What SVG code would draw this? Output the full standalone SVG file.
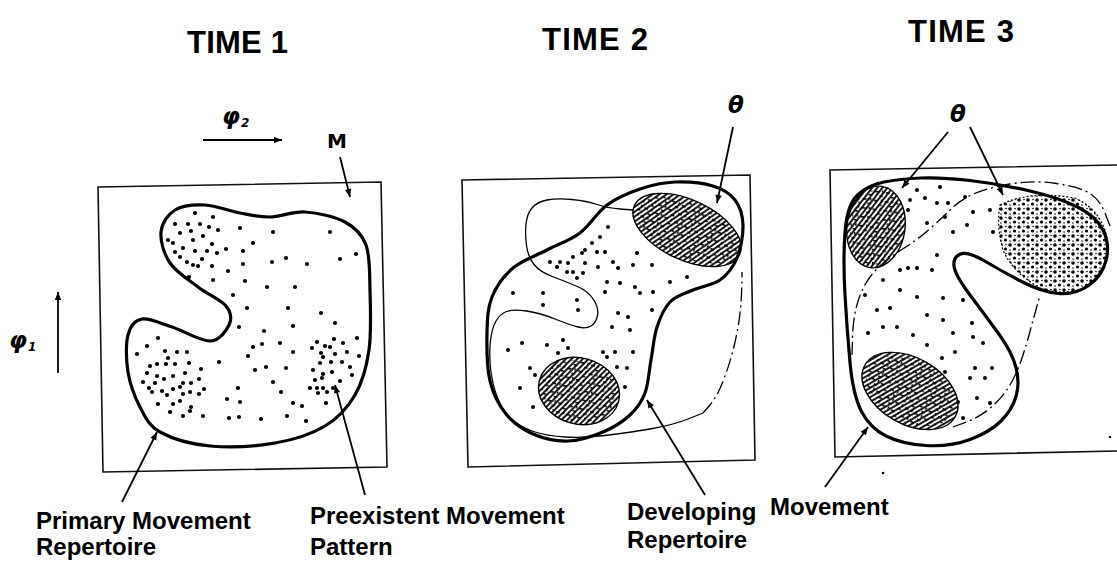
<svg xmlns="http://www.w3.org/2000/svg" width="1117" height="564" viewBox="0 0 1117 564">
<style>
.box{fill:none;stroke:#111;stroke-width:1.6}
.thick{fill:none;stroke:#000;stroke-width:3.2;stroke-linejoin:round}
.thin{fill:none;stroke:#000;stroke-width:1.3}
.dd{fill:none;stroke:#000;stroke-width:1.3;stroke-dasharray:14 4 2 4}
.dots circle{fill:#000}
.hat{fill:url(#hatch);stroke:#000;stroke-width:1.4}
.spk{fill:url(#speck);stroke:none}
.arr{fill:none;stroke:#000;stroke-width:1.8;marker-end:url(#ah)}
.title{font-family:"Liberation Sans",Arial,sans-serif;font-weight:bold;font-size:31px;fill:#000}
.lbl{font-family:"Liberation Sans",Arial,sans-serif;font-weight:bold;font-size:24px;fill:#000}
.greek{font-family:"DejaVu Sans",sans-serif;font-weight:bold;font-style:italic;font-size:23px;fill:#000}
.sub{font-family:"DejaVu Sans",sans-serif;font-weight:bold;font-size:12px;fill:#000}
.m{font-family:"DejaVu Sans",sans-serif;font-weight:bold;font-size:20px;fill:#000}
</style>
<defs>
<pattern id="hatch" width="4" height="4" patternUnits="userSpaceOnUse" patternTransform="rotate(30)">
<rect width="4" height="4" fill="#fff"/>
<line x1="1" y1="0" x2="1" y2="4" stroke="#000" stroke-width="1.8"/>
</pattern>
<pattern id="speck" width="11" height="9" patternUnits="userSpaceOnUse">
<rect x="1" y="2" width="4" height="1.6" fill="#000"/>
<rect x="6" y="6" width="3.5" height="1.5" fill="#000"/>
<rect x="8" y="1" width="1.5" height="2.5" fill="#000"/>
</pattern>
<pattern id="stip" width="9" height="9" patternUnits="userSpaceOnUse">
<circle cx="2" cy="2" r="1.8" fill="#000"/>
<circle cx="6.5" cy="6" r="1.6" fill="#000"/>
<circle cx="7" cy="1.5" r="0.8" fill="#000"/>
<circle cx="2" cy="7" r="0.8" fill="#000"/>
</pattern>
<marker id="ah" viewBox="0 0 10 10" refX="10" refY="5" markerWidth="10" markerHeight="8" markerUnits="userSpaceOnUse" orient="auto">
<path d="M0,1 L10,5 L0,9 z" fill="#000"/>
</marker>
</defs>
<rect width="1117" height="564" fill="#fff"/>

<g id="titles">
<text class="title" x="187" y="53" textLength="101">TIME 1</text>
<text class="title" x="542" y="50" textLength="106">TIME 2</text>
<text class="title" x="908" y="42" textLength="106">TIME 3</text>
</g>

<g id="time1">
<polygon class="box" points="98,187 381,182 387,467 103,472"/>
<g class="dots">
<circle cx="195" cy="213" r="2.1"/><circle cx="213" cy="217" r="2.1"/><circle cx="175" cy="224" r="2.1"/><circle cx="188" cy="224" r="2.1"/><circle cx="200" cy="224" r="2.1"/><circle cx="209" cy="227" r="2.1"/><circle cx="218" cy="230" r="2.1"/><circle cx="240" cy="228" r="2.1"/><circle cx="273" cy="232" r="2.1"/><circle cx="330" cy="232" r="2.1"/><circle cx="180" cy="233" r="2.1"/><circle cx="191" cy="231" r="2.1"/><circle cx="203" cy="236" r="2.1"/><circle cx="168" cy="240" r="2.1"/><circle cx="173" cy="243" r="2.1"/><circle cx="193" cy="240" r="2.1"/><circle cx="212" cy="244" r="2.1"/><circle cx="253" cy="243" r="2.1"/><circle cx="183" cy="248" r="2.1"/><circle cx="195" cy="251" r="2.1"/><circle cx="207" cy="251" r="2.1"/><circle cx="217" cy="253" r="2.1"/><circle cx="226" cy="249" r="2.1"/><circle cx="243" cy="251" r="2.1"/><circle cx="175" cy="252" r="2.1"/><circle cx="180" cy="257" r="2.1"/><circle cx="187" cy="262" r="2.1"/><circle cx="202" cy="259" r="2.1"/><circle cx="193" cy="265" r="2.1"/><circle cx="198" cy="266" r="2.1"/><circle cx="212" cy="266" r="2.1"/><circle cx="228" cy="271" r="2.1"/><circle cx="243" cy="264" r="2.1"/><circle cx="272" cy="262" r="2.1"/><circle cx="286" cy="258" r="2.1"/><circle cx="307" cy="264" r="2.1"/><circle cx="340" cy="259" r="2.1"/><circle cx="356" cy="254" r="2.1"/><circle cx="189" cy="277" r="2.1"/><circle cx="213" cy="280" r="2.1"/><circle cx="245" cy="281" r="2.1"/><circle cx="267" cy="287" r="2.1"/><circle cx="295" cy="287" r="2.1"/><circle cx="233" cy="295" r="2.1"/><circle cx="247" cy="308" r="2.1"/><circle cx="288" cy="308" r="2.1"/><circle cx="321" cy="313" r="2.1"/><circle cx="239" cy="327" r="2.1"/><circle cx="293" cy="326" r="2.1"/><circle cx="335" cy="323" r="2.1"/><circle cx="264" cy="331" r="2.1"/><circle cx="357" cy="338" r="2.1"/><circle cx="158" cy="338" r="2.1"/><circle cx="147" cy="346" r="2.1"/><circle cx="137" cy="354" r="2.1"/><circle cx="165" cy="351" r="2.1"/><circle cx="177" cy="352" r="2.1"/><circle cx="187" cy="352" r="2.1"/><circle cx="168" cy="358" r="2.1"/><circle cx="150" cy="366" r="2.1"/><circle cx="157" cy="364" r="2.1"/><circle cx="166" cy="364" r="2.1"/><circle cx="175" cy="364" r="2.1"/><circle cx="189" cy="363" r="2.1"/><circle cx="219" cy="362" r="2.1"/><circle cx="253" cy="347" r="2.1"/><circle cx="262" cy="344" r="2.1"/><circle cx="280" cy="343" r="2.1"/><circle cx="293" cy="352" r="2.1"/><circle cx="248" cy="356" r="2.1"/><circle cx="147" cy="373" r="2.1"/><circle cx="157" cy="376" r="2.1"/><circle cx="164" cy="379" r="2.1"/><circle cx="173" cy="376" r="2.1"/><circle cx="185" cy="373" r="2.1"/><circle cx="201" cy="369" r="2.1"/><circle cx="143" cy="382" r="2.1"/><circle cx="155" cy="383" r="2.1"/><circle cx="183" cy="383" r="2.1"/><circle cx="191" cy="383" r="2.1"/><circle cx="199" cy="379" r="2.1"/><circle cx="255" cy="370" r="2.1"/><circle cx="266" cy="367" r="2.1"/><circle cx="286" cy="368" r="2.1"/><circle cx="273" cy="382" r="2.1"/><circle cx="149" cy="388" r="2.1"/><circle cx="162" cy="391" r="2.1"/><circle cx="173" cy="389" r="2.1"/><circle cx="180" cy="387" r="2.1"/><circle cx="152" cy="392" r="2.1"/><circle cx="167" cy="395" r="2.1"/><circle cx="183" cy="394" r="2.1"/><circle cx="190" cy="392" r="2.1"/><circle cx="199" cy="394" r="2.1"/><circle cx="204" cy="389" r="2.1"/><circle cx="238" cy="388" r="2.1"/><circle cx="281" cy="392" r="2.1"/><circle cx="227" cy="399" r="2.1"/><circle cx="240" cy="402" r="2.1"/><circle cx="158" cy="404" r="2.1"/><circle cx="173" cy="404" r="2.1"/><circle cx="180" cy="401" r="2.1"/><circle cx="191" cy="407" r="2.1"/><circle cx="293" cy="403" r="2.1"/><circle cx="302" cy="406" r="2.1"/><circle cx="170" cy="412" r="2.1"/><circle cx="190" cy="411" r="2.1"/><circle cx="183" cy="416" r="2.1"/><circle cx="203" cy="416" r="2.1"/><circle cx="229" cy="418" r="2.1"/><circle cx="239" cy="417" r="2.1"/><circle cx="261" cy="419" r="2.1"/><circle cx="287" cy="416" r="2.1"/><circle cx="306" cy="421" r="2.1"/><circle cx="317" cy="342" r="2.1"/><circle cx="325" cy="346" r="2.1"/><circle cx="330" cy="347" r="2.1"/><circle cx="343" cy="343" r="2.1"/><circle cx="334" cy="339" r="2.1"/><circle cx="312" cy="348" r="2.1"/><circle cx="321" cy="353" r="2.1"/><circle cx="323" cy="357" r="2.1"/><circle cx="335" cy="354" r="2.1"/><circle cx="347" cy="352" r="2.1"/><circle cx="359" cy="356" r="2.1"/><circle cx="320" cy="363" r="2.1"/><circle cx="331" cy="362" r="2.1"/><circle cx="342" cy="362" r="2.1"/><circle cx="350" cy="367" r="2.1"/><circle cx="313" cy="370" r="2.1"/><circle cx="323" cy="374" r="2.1"/><circle cx="332" cy="372" r="2.1"/><circle cx="352" cy="375" r="2.1"/><circle cx="315" cy="380" r="2.1"/><circle cx="322" cy="378" r="2.1"/><circle cx="340" cy="381" r="2.1"/><circle cx="310" cy="388" r="2.1"/><circle cx="317" cy="388" r="2.1"/><circle cx="323" cy="388" r="2.1"/><circle cx="327" cy="392" r="2.1"/><circle cx="318" cy="393" r="2.1"/><circle cx="326" cy="403" r="2.1"/><circle cx="333" cy="388" r="2.1"/>
</g>
<path class="thick" d="M161,232 C161.8,223.2 167.7,214.5 175,210 S194.2,204.5 205,205 S229.2,211 240,213 S259.2,217.2 270,217 S292.5,211.2 305,212 S334.8,216.5 345,222 S361.8,233.7 366,245 S369.5,272.5 370,290 S371.5,332.5 369,350 S362.3,382.3 355,395 S338.3,418 325,426 S294.2,439.7 275,443 S229.2,447.8 210,446 S171.7,438.5 160,432 S145.3,417 140,407 S130,384 128,372 S125.7,343.8 128,335 S134.7,320.3 142,319 S160.7,323.3 172,327 S200.5,341.3 210,341 S226.3,330.8 229,325 S231.2,312.3 226,306 S207.3,294.2 198,287 S176.2,272.2 170,263 S160.2,240.8 161,232 Z"/>
<text class="greek" x="222" y="124">φ<tspan class="sub" dx="1" dy="3">2</tspan></text>
<text class="m" x="327" y="148">M</text>
<text class="greek" x="9" y="348">φ<tspan class="sub" dx="1" dy="3">1</tspan></text>
</g>

<g id="time2">
<polygon class="box" points="462,180 750,175 755,460 468,467"/>
<ellipse class="hat" cx="687" cy="230" rx="58" ry="30" transform="rotate(25 687 230)"/>
<ellipse class="spk" cx="687" cy="230" rx="54" ry="27" transform="rotate(25 687 230)"/>
<ellipse class="hat" cx="579" cy="391" rx="41" ry="33" transform="rotate(15 579 391)"/>
<ellipse class="spk" cx="579" cy="391" rx="38" ry="30" transform="rotate(15 579 391)"/>
<g class="dots">
<circle cx="608" cy="227" r="2"/><circle cx="600" cy="237" r="2"/><circle cx="592" cy="243" r="2"/><circle cx="585" cy="250" r="2"/><circle cx="597" cy="252" r="2"/><circle cx="605" cy="252" r="2"/><circle cx="573" cy="257" r="2"/><circle cx="582" cy="253" r="2"/><circle cx="637" cy="253" r="2"/><circle cx="550" cy="262" r="2"/><circle cx="560" cy="262" r="2"/><circle cx="568" cy="263" r="2"/><circle cx="585" cy="263" r="2"/><circle cx="613" cy="262" r="2"/><circle cx="557" cy="267" r="2"/><circle cx="567" cy="272" r="2"/><circle cx="573" cy="272" r="2"/><circle cx="583" cy="273" r="2"/><circle cx="598" cy="267" r="2"/><circle cx="618" cy="268" r="2"/><circle cx="633" cy="265" r="2"/><circle cx="652" cy="265" r="2"/><circle cx="577" cy="278" r="2"/><circle cx="607" cy="282" r="2"/><circle cx="620" cy="283" r="2"/><circle cx="635" cy="287" r="2"/><circle cx="670" cy="282" r="2"/><circle cx="687" cy="277" r="2"/><circle cx="513" cy="293" r="2"/><circle cx="543" cy="293" r="2"/><circle cx="605" cy="292" r="2"/><circle cx="640" cy="293" r="2"/><circle cx="653" cy="292" r="2"/><circle cx="543" cy="305" r="2"/><circle cx="577" cy="300" r="2"/><circle cx="578" cy="310" r="2"/><circle cx="618" cy="313" r="2"/><circle cx="628" cy="317" r="2"/><circle cx="652" cy="310" r="2"/><circle cx="612" cy="327" r="2"/><circle cx="630" cy="330" r="2"/><circle cx="508" cy="350" r="2"/><circle cx="522" cy="343" r="2"/><circle cx="547" cy="345" r="2"/><circle cx="563" cy="340" r="2"/><circle cx="568" cy="348" r="2"/><circle cx="558" cy="353" r="2"/><circle cx="603" cy="352" r="2"/><circle cx="615" cy="352" r="2"/><circle cx="633" cy="352" r="2"/><circle cx="607" cy="357" r="2"/><circle cx="530" cy="368" r="2"/><circle cx="535" cy="375" r="2"/><circle cx="617" cy="367" r="2"/><circle cx="627" cy="368" r="2"/><circle cx="625" cy="387" r="2"/><circle cx="520" cy="388" r="2"/><circle cx="533" cy="407" r="2"/>
</g>
<path class="thin" d="M633,210 L620,209 Q607,208 597,204.5 Q587,201 572,199.5 Q557,198 547,200 Q537,202 532,208 Q527,214 526,224 Q525,234 526.5,245.5 Q528,257 534,264.5 Q540,272 553.5,277 Q567,282 577.5,286.5 Q588,291 593.5,299.5 Q599,308 597.5,315.5 Q596,323 591,326 Q586,329 578,327 Q570,325 555,319 Q540,313 526.5,311 Q513,309 506.5,311.5 Q500,314 496,321 Q492,328 490.5,340.5 Q489,353 490.5,368 Q492,383 497,396.5 Q502,410 511,418.5 Q520,427 533.5,431.5 Q547,436 565,437 Q583,438 605,435.5 Q627,433 650,429 Q673,425 688,419 L703,413"/>
<path class="dd" d="M703,413 L710,405 Q717,397 723.5,380 Q730,363 734,346.5 Q738,330 740,313.5 Q742,297 742,272"/>
<path class="thick" d="M487,333 C487.3,319 487.7,307.8 492,297 S503.8,275.8 513,268 S535.8,255.8 547,250 S570,240.5 580,233 S597,212.3 607,205 S628.7,192.8 640,189 S662.8,182.5 675,182 S703,183 713,186 S730,193.5 735,200 S742.7,215.3 743,225 S740.8,248.8 737,258 S727.3,274.7 720,280 S701.3,286.3 693,290 S676,295.8 670,302 S660.2,317.3 657,327 S653,349 651,360 S648.5,383.8 645,393 S637,408.5 630,415 S613.3,427.7 603,432 S579.7,440.7 568,441 S543.3,438.5 533,434 S513.2,422.8 506,414 S493.2,394.5 490,381 S486.7,347 487,333 Z"/>
<text class="greek" x="728" y="113">θ</text>
</g>

<g id="time3">
<path class="box" d="M1117,165 L830,170 L835,457 L1117,451"/>
<ellipse class="hat" cx="876" cy="227" rx="29" ry="41" transform="rotate(8 876 227)"/>
<ellipse class="spk" cx="876" cy="227" rx="26" ry="38" transform="rotate(8 876 227)"/>
<ellipse class="hat" cx="910" cy="391" rx="52" ry="33" transform="rotate(30 910 391)"/>
<ellipse class="spk" cx="910" cy="391" rx="48" ry="30" transform="rotate(30 910 391)"/>
<path d="M1000,205 Q1030,190 1075,198 Q1105,212 1108,245 Q1106,275 1085,288 Q1060,296 1040,288 Q1012,272 1003,250 Q996,225 1000,205 Z" fill="url(#stip)" stroke="#000" stroke-width="1.2" stroke-dasharray="2 2"/>
<g class="dots">
<circle cx="917" cy="190" r="2"/><circle cx="940" cy="187" r="2"/><circle cx="910" cy="200" r="2"/><circle cx="925" cy="198" r="2"/><circle cx="937" cy="203" r="2"/><circle cx="948" cy="203" r="2"/><circle cx="965" cy="197" r="2"/><circle cx="973" cy="212" r="2"/><circle cx="990" cy="210" r="2"/><circle cx="993" cy="232" r="2"/><circle cx="908" cy="210" r="2"/><circle cx="927" cy="223" r="2"/><circle cx="945" cy="217" r="2"/><circle cx="953" cy="232" r="2"/><circle cx="967" cy="225" r="2"/><circle cx="937" cy="255" r="2"/><circle cx="900" cy="270" r="2"/><circle cx="908" cy="268" r="2"/><circle cx="917" cy="268" r="2"/><circle cx="932" cy="270" r="2"/><circle cx="883" cy="280" r="2"/><circle cx="900" cy="290" r="2"/><circle cx="917" cy="297" r="2"/><circle cx="943" cy="298" r="2"/><circle cx="963" cy="300" r="2"/><circle cx="865" cy="295" r="2"/><circle cx="877" cy="310" r="2"/><circle cx="890" cy="308" r="2"/><circle cx="927" cy="315" r="2"/><circle cx="943" cy="320" r="2"/><circle cx="972" cy="323" r="2"/><circle cx="883" cy="327" r="2"/><circle cx="897" cy="327" r="2"/><circle cx="868" cy="333" r="2"/><circle cx="913" cy="335" r="2"/><circle cx="953" cy="333" r="2"/><circle cx="927" cy="345" r="2"/><circle cx="955" cy="352" r="2"/><circle cx="973" cy="337" r="2"/><circle cx="983" cy="343" r="2"/><circle cx="942" cy="358" r="2"/><circle cx="945" cy="372" r="2"/><circle cx="975" cy="368" r="2"/><circle cx="992" cy="368" r="2"/><circle cx="970" cy="378" r="2"/><circle cx="985" cy="378" r="2"/><circle cx="958" cy="402" r="2"/><circle cx="977" cy="398" r="2"/><circle cx="990" cy="403" r="2"/><circle cx="963" cy="418" r="2"/><circle cx="883" cy="473" r="1.3"/><circle cx="1110" cy="437" r="1.2"/>
</g>
<path class="dd" d="M1110,226 L1105,213 Q1100,200 1090,193.5 Q1080,187 1056.5,183.5 Q1033,180 1010,184 Q987,188 973.5,194 Q960,200 950,210 Q940,220 928.5,230 Q917,240 903.5,248.5 Q890,257 881,265 Q872,273 866,283 Q860,293 856.5,306.5 Q853,320 852.5,337.5 L852,355"/>
<path class="dd" d="M953,427 L966.5,422 Q980,417 991.5,407 Q1003,397 1010,385 Q1017,373 1022,358 Q1027,343 1030,331.5 Q1033,320 1035.5,311.5 L1040,295"/>
<path class="thick" d="M845,232.5 Q847,205 857.5,195 Q868,185 884,182 Q900,179 920,178 Q940,177 970,180.5 Q1000,184 1030,191 Q1060,198 1078.5,207.5 Q1097,217 1103.5,231 Q1110,245 1106,260.5 Q1102,276 1088.5,285.5 Q1075,295 1058.5,293.5 Q1042,292 1022.5,282 Q1003,272 985.5,261.5 Q968,251 960.5,254 Q953,257 954,266 Q955,275 970,295 Q985,315 998.5,333.5 Q1012,352 1016,367.5 Q1020,383 1016,396.5 Q1012,410 1001,421 Q990,432 970,439.5 Q950,447 926,445.5 Q902,444 886,436 Q870,428 861.5,411.5 Q853,395 850,362.5 Q847,330 845,295 Q843,260 845,232.5 Z"/>
<text class="greek" x="950" y="122">θ</text>
</g>

<g id="connectors">
<line class="arr" x1="203" y1="140" x2="282" y2="140"/>
<line class="arr" x1="58" y1="373" x2="58" y2="292"/>
<line class="arr" x1="340" y1="157" x2="350" y2="197"/>
<line class="arr" x1="122" y1="502" x2="157" y2="432"/>
<line class="arr" x1="365" y1="495" x2="335" y2="385"/>
<line class="arr" x1="733" y1="127" x2="717" y2="203"/>
<line class="arr" x1="705" y1="495" x2="647" y2="400"/>
<line class="arr" x1="948" y1="132" x2="902" y2="188"/>
<line class="arr" x1="970" y1="127" x2="1003" y2="195"/>
<line class="arr" x1="825" y1="487" x2="868" y2="427"/>
</g>

<g id="labels">
<text class="lbl" x="36" y="529">Primary Movement</text>
<text class="lbl" x="36" y="555">Repertoire</text>
<text class="lbl" x="310" y="524">Preexistent Movement</text>
<text class="lbl" x="310" y="555">Pattern</text>
<text class="lbl" x="627" y="520">Developing</text>
<text class="lbl" x="627" y="548">Repertoire</text>
<text class="lbl" x="770" y="515">Movement</text>
</g>
</svg>
